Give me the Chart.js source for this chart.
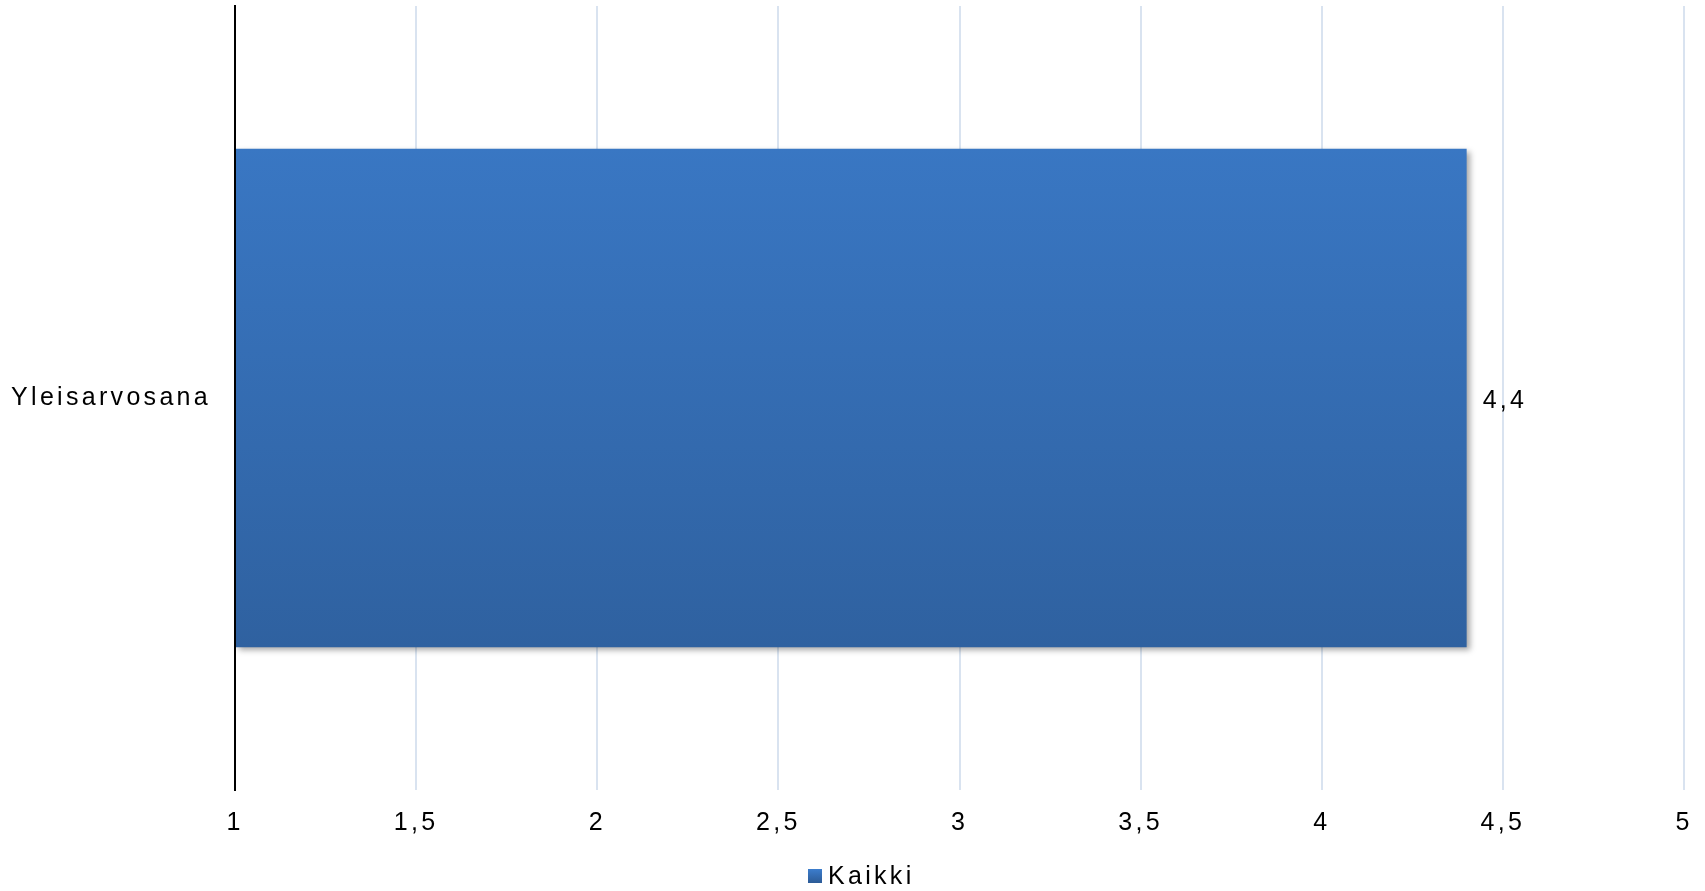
<!DOCTYPE html>
<html>
<head>
<meta charset="utf-8">
<script src="https://cdn.jsdelivr.net/npm/chart.js@4/dist/chart.umd.min.js"></script>
<style>
  html, body { margin: 0; padding: 0; background: #fff; }
  #wrap { width: 1705px; height: 891px; }
</style>
</head>
<body>
<div id="wrap"><canvas id="chart"></canvas></div>
<script>
const categories = ['Yleisarvosana'];
const seriesName = 'Kaikki';
const seriesValues = [4.4];
const xTickLabels = ['1', '1,5', '2', '2,5', '3', '3,5', '4', '4,5', '5'];

const FONT = "'Liberation Sans', Arial, sans-serif";
const FONT_SIZE = 25;
const SPACING = '3.3px';

// wider letter spacing like the original office chart
const spacingPlugin = {
  id: 'spacing',
  beforeInit(chart) { chart.ctx.letterSpacing = SPACING; },
  beforeUpdate(chart) { chart.ctx.letterSpacing = SPACING; },
  beforeDraw(chart) { chart.ctx.letterSpacing = SPACING; }
};

const shadowPlugin = {
  id: 'barShadow',
  beforeDatasetsDraw(chart) {
    const ctx = chart.ctx;
    ctx.save();
    ctx.shadowColor = 'rgba(0,0,0,0.35)';
    ctx.shadowBlur = 6;
    ctx.shadowOffsetX = 3;
    ctx.shadowOffsetY = 3;
  },
  afterDatasetsDraw(chart) {
    chart.ctx.restore();
  }
};

const valueLabels = {
  id: 'valueLabels',
  afterDatasetsDraw(chart) {
    const ctx = chart.ctx;
    const meta = chart.getDatasetMeta(0);
    ctx.save();
    ctx.letterSpacing = SPACING;
    ctx.font = FONT_SIZE + 'px ' + FONT;
    ctx.fillStyle = '#000';
    ctx.textAlign = 'left';
    ctx.textBaseline = 'middle';
    meta.data.forEach((bar, i) => {
      const txt = String(seriesValues[i]).replace('.', ',');
      ctx.fillText(txt, bar.x + 16, bar.y + 3);
    });
    ctx.restore();
  }
};

// legend drawn by hand: small square close to the text
const bottomLegend = {
  id: 'bottomLegend',
  afterDraw(chart) {
    const ctx = chart.ctx;
    ctx.save();
    ctx.letterSpacing = SPACING;
    ctx.font = FONT_SIZE + 'px ' + FONT;
    const box = 14, gap = 6;
    const tw = ctx.measureText(seriesName).width;
    const x0 = Math.round(chart.width / 2 + 9 - (box + gap + tw) / 2);
    const cy = 876;
    const g = ctx.createLinearGradient(0, cy - box / 2, 0, cy + box / 2);
    g.addColorStop(0, '#3c7dcd');
    g.addColorStop(1, '#2c5b96');
    ctx.fillStyle = g;
    ctx.fillRect(x0, cy - box / 2, box, box);
    ctx.fillStyle = '#000';
    ctx.textAlign = 'left';
    ctx.textBaseline = 'middle';
    ctx.fillText(seriesName, x0 + box + gap, cy + 1);
    ctx.restore();
  }
};

function barFill(context) {
  const area = context.chart.chartArea;
  if (!area) return '#3a78c4';
  const bar = context.element;
  const top = bar && bar.height ? bar.y - bar.height / 2 : area.top;
  const bottom = bar && bar.height ? bar.y + bar.height / 2 : area.bottom;
  const g = context.chart.ctx.createLinearGradient(0, top, 0, bottom);
  g.addColorStop(0, '#3c7dcd');
  g.addColorStop(1, '#2c5b96');
  return g;
}

new Chart(document.getElementById('chart'), {
  type: 'bar',
  data: {
    labels: categories,
    datasets: [{
      label: seriesName,
      data: seriesValues,
      base: 1,
      backgroundColor: barFill,
      borderWidth: 0,
      categoryPercentage: 0.636,
      barPercentage: 1
    }]
  },
  options: {
    indexAxis: 'y',
    responsive: true,
    maintainAspectRatio: false,
    animation: false,
    layout: { padding: { top: 6, right: 21, left: 0, bottom: 32 } },
    scales: {
      x: {
        min: 1,
        max: 5,
        ticks: {
          stepSize: 0.5,
          color: '#000',
          padding: 18,
          font: { family: FONT, size: FONT_SIZE },
          callback: (v, i) => xTickLabels[i]
        },
        grid: { color: '#d9e3f0', lineWidth: 2, drawTicks: false },
        border: { display: false },
        afterFit(scale) {
          scale.height = 69;
          scale.paddingLeft = 0;
          scale.paddingRight = 0;
        }
      },
      y: {
        ticks: {
          color: '#000',
          padding: 24,
          font: { family: FONT, size: FONT_SIZE, lineHeight: 1.0 }
        },
        grid: { display: false, drawTicks: false },
        border: { display: true, color: '#000', width: 2 },
        afterFit(scale) {
          scale.width = 235;
          scale.paddingTop = 0;
          scale.paddingBottom = 0;
        }
      }
    },
    plugins: {
      legend: { display: false },
      tooltip: { enabled: false }
    }
  },
  plugins: [spacingPlugin, shadowPlugin, valueLabels, bottomLegend]
});
</script>
</body>
</html>
